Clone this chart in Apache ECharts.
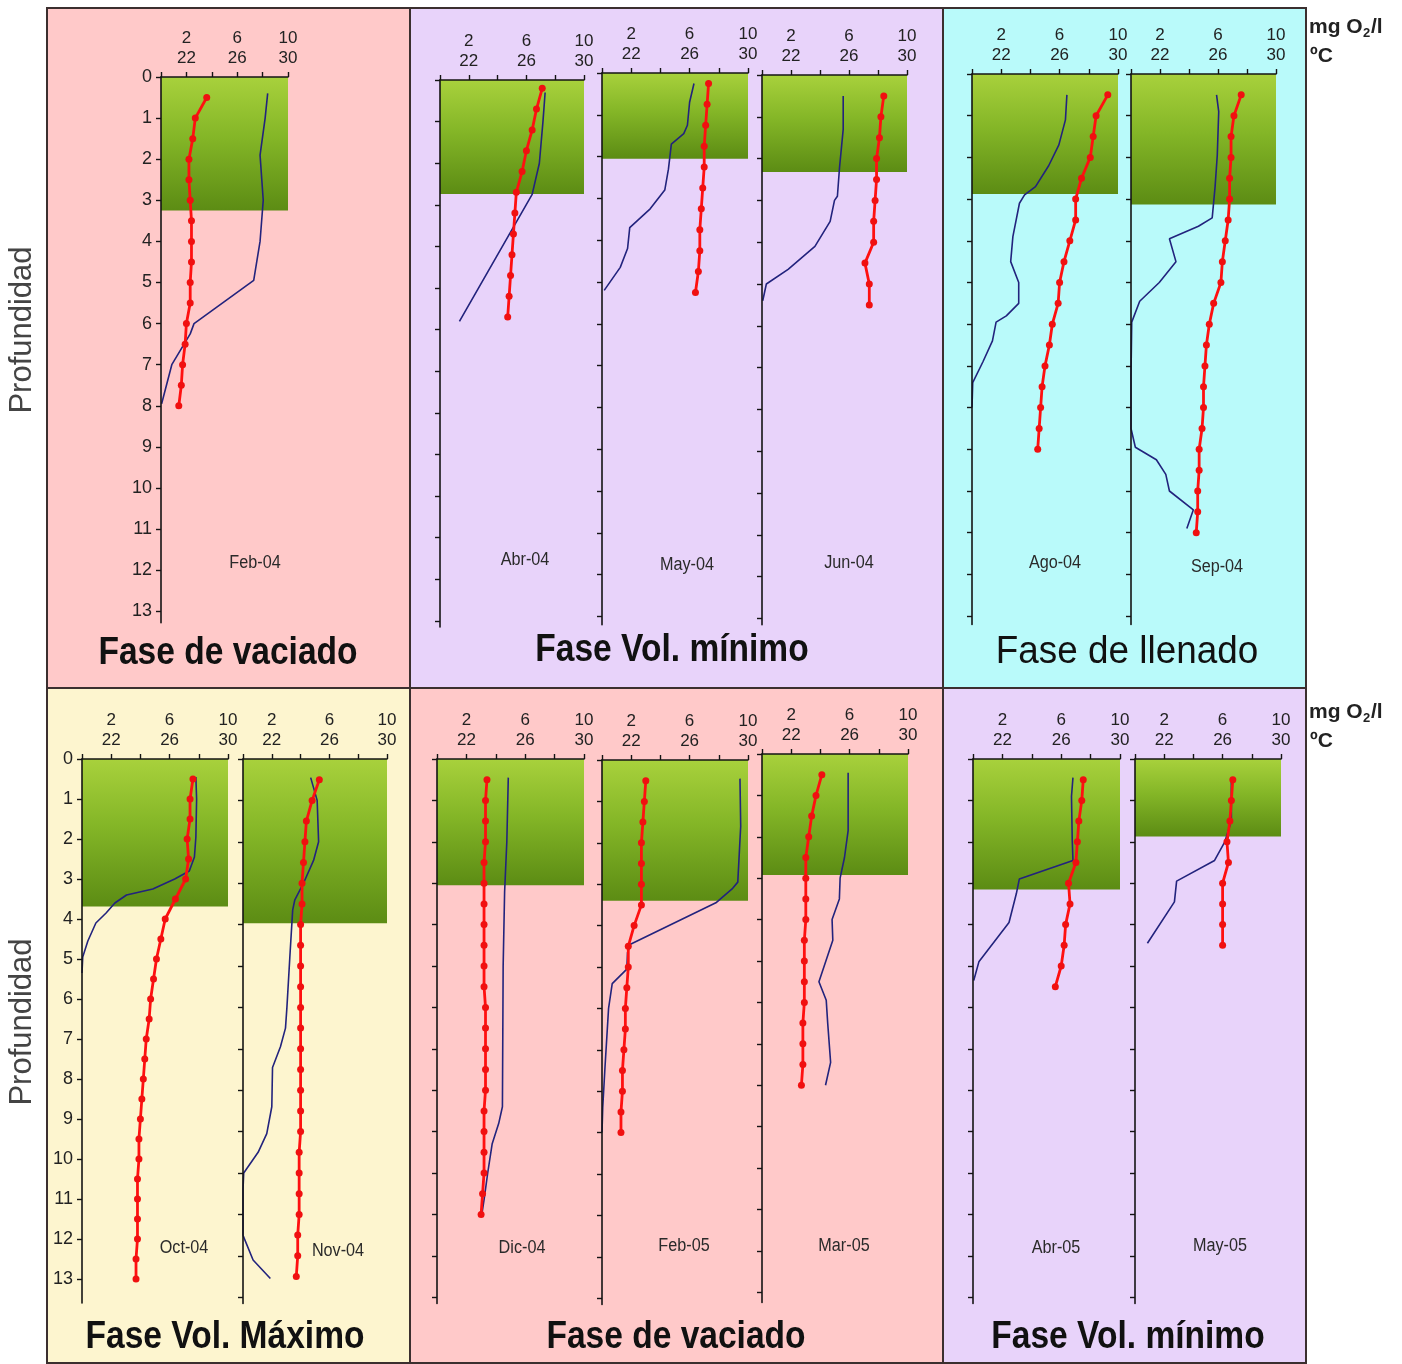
<!DOCTYPE html>
<html>
<head>
<meta charset="utf-8">
<script src="https://cdn.jsdelivr.net/npm/echarts@6/dist/echarts.min.js"></script>
<style>
  html, body { margin: 0; padding: 0; background: #ffffff; }
  #chart { width: 1402px; height: 1364px; }
</style>
</head>
<body>
<div id="chart"></div>
<script>
// Vertical profiles of temperature (ºC) and dissolved oxygen (mg O2/l) by depth (m).
const depthTicks = [0, 1, 2, 3, 4, 5, 6, 7, 8, 9, 10, 11, 12, 13];

// Feb-04
const feb04TempDepth = [0.5, 1, 1.5, 2, 2.5, 3, 3.5, 4, 4.5, 5, 5.5, 6, 6.5, 7, 7.5, 8];
const feb04Temp = [23.6, 22.7, 22.5, 22.2, 22.2, 22.3, 22.4, 22.4, 22.4, 22.3, 22.3, 22.0, 21.9, 21.7, 21.6, 21.4];
const feb04O2Depth = [0.4, 1.0, 1.9, 3.0, 4.0, 4.95, 6.0, 6.25, 7.0, 7.95];
const feb04O2 = [8.4, 8.2, 7.8, 8.05, 7.8, 7.3, 2.6, 2.3, 0.85, 0.05];
const feb04Photic = 3.25;

// Abr-04
const abr04TempDepth = [0.2, 0.7, 1.2, 1.7, 2.2, 2.7, 3.2, 3.7, 4.2, 4.7, 5.2, 5.7];
const abr04Temp = [27.1, 26.7, 26.4, 26.0, 25.7, 25.3, 25.2, 25.1, 25.0, 24.9, 24.8, 24.7];
const abr04O2Depth = [0.3, 1.0, 2.0, 2.75, 5.8];
const abr04O2 = [7.3, 7.15, 6.9, 6.4, 1.35];
const abr04Photic = 2.74;

// May-04
const may04TempDepth = [0.25, 0.75, 1.25, 1.75, 2.25, 2.75, 3.25, 3.75, 4.25, 4.75, 5.25];
const may04Temp = [27.3, 27.2, 27.1, 27.0, 27.0, 26.9, 26.8, 26.7, 26.7, 26.6, 26.4];
const may04O2Depth = [0.25, 0.7, 1.25, 1.45, 1.7, 2.3, 2.8, 3.25, 3.7, 4.2, 4.65, 5.2];
const may04O2 = [6.3, 6.0, 5.85, 5.6, 4.75, 4.55, 4.3, 3.3, 1.9, 1.75, 1.25, 0.15];
const may04Photic = 2.05;

// Jun-04
const jun04TempDepth = [0.5, 1, 1.5, 2, 2.5, 3, 3.5, 4, 4.5, 5, 5.5];
const jun04Temp = [28.4, 28.2, 28.1, 27.9, 27.9, 27.8, 27.7, 27.7, 27.1, 27.4, 27.4];
const jun04O2Depth = [0.5, 1.3, 2.2, 2.9, 3.0, 3.5, 4.1, 4.65, 5.0, 5.4];
const jun04O2 = [5.6, 5.6, 5.35, 5.2, 5.0, 4.7, 3.65, 1.8, 0.3, 0.05];
const jun04Photic = 2.32;

// Ago-04
const ago04TempDepth = [0.5, 1, 1.5, 2, 2.5, 3, 3.5, 4, 4.5, 5, 5.5, 6, 6.5, 7, 7.5, 8, 8.5, 9];
const ago04Temp = [29.3, 28.5, 28.3, 28.1, 27.5, 27.1, 27.1, 26.7, 26.3, 26.0, 25.9, 25.5, 25.3, 25.0, 24.8, 24.7, 24.6, 24.5];
const ago04O2Depth = [0.5, 1.1, 1.7, 2.2, 2.7, 2.9, 3.1, 3.9, 4.5, 5.0, 5.5, 5.8, 5.95, 6.4, 6.9, 7.4, 8.0];
const ago04O2 = [6.5, 6.4, 5.95, 5.25, 4.35, 3.6, 3.25, 2.8, 2.65, 3.2, 3.2, 2.35, 1.65, 1.4, 0.75, 0.05, 0];
const ago04Photic = 2.88;

// Sep-04
const sep04TempDepth = [0.5, 1, 1.5, 2, 2.5, 3, 3.5, 4, 4.5, 5, 5.5, 6, 6.5, 7, 7.5, 8, 8.5, 9, 9.5, 10, 10.5, 11];
const sep04Temp = [27.6, 27.1, 26.9, 26.9, 26.8, 26.8, 26.7, 26.5, 26.3, 26.2, 25.7, 25.4, 25.2, 25.1, 25.0, 25.0, 24.9, 24.7, 24.7, 24.6, 24.6, 24.5];
const sep04O2Depth = [0.5, 0.9, 1.95, 2.7, 3.45, 3.65, 3.95, 4.5, 5.0, 5.45, 5.95, 7.25, 8.5, 8.95, 9.25, 9.6, 10.0, 10.45, 10.9];
const sep04O2 = [5.9, 6.05, 5.95, 5.8, 5.6, 4.65, 2.65, 3.1, 1.95, 0.6, 0.05, 0, 0, 0.3, 1.75, 2.4, 2.65, 4.3, 3.85];
const sep04Photic = 3.13;

// Oct-04
const oct04TempDepth = [0.5, 1, 1.5, 2, 2.5, 3, 3.5, 4, 4.5, 5, 5.5, 6, 6.5, 7, 7.5, 8, 8.5, 9, 9.5, 10, 10.5, 11, 11.5, 12, 12.5, 13];
const oct04Temp = [27.6, 27.4, 27.4, 27.2, 27.3, 27.1, 26.4, 25.7, 25.4, 25.1, 24.9, 24.7, 24.6, 24.4, 24.3, 24.2, 24.1, 24.0, 23.9, 23.9, 23.8, 23.8, 23.8, 23.8, 23.7, 23.7];
const oct04O2Depth = [0.45, 1.0, 1.95, 2.45, 2.8, 3.0, 3.25, 3.4, 3.6, 3.85, 4.1, 4.55, 4.95, 5.35];
const oct04O2 = [7.8, 7.85, 7.8, 7.7, 7.35, 6.35, 4.85, 3.05, 2.25, 1.65, 0.95, 0.4, 0.05, 0];
const oct04Photic = 3.69;

// Nov-04
const nov04TempDepth = [0.5, 1, 1.5, 2, 2.5, 3, 3.5, 4, 4.5, 5, 5.5, 6, 6.5, 7, 7.5, 8, 8.5, 9, 9.5, 10, 10.5, 11, 11.5, 12, 12.5];
const nov04Temp = [25.3, 24.8, 24.4, 24.3, 24.2, 24.1, 24.1, 24.0, 24.0, 24.0, 24.0, 24.0, 24.0, 24.0, 24.0, 24.0, 24.0, 24.0, 23.9, 23.9, 23.9, 23.9, 23.8, 23.8, 23.7];
const nov04O2Depth = [0.45, 1.0, 2.0, 2.45, 3.0, 3.4, 3.65, 4.8, 6.0, 6.5, 6.95, 7.45, 8.4, 9.05, 9.5, 10.0, 10.4, 11.5, 11.55, 12.1, 12.55];
const nov04O2 = [4.7, 5.15, 5.25, 4.9, 4.2, 3.6, 3.45, 3.25, 3.05, 2.95, 2.6, 2.05, 2.0, 1.65, 1.05, 0.05, 0, 0, 0.05, 0.7, 1.9];
const nov04Photic = 3.97;

// Dic-04
const dic04TempDepth = [0.5, 1, 1.5, 2, 2.5, 3, 3.5, 4, 4.5, 5, 5.5, 6, 6.5, 7, 7.5, 8, 8.5, 9, 9.5, 10, 10.5, 11];
const dic04Temp = [23.4, 23.3, 23.3, 23.3, 23.2, 23.2, 23.2, 23.2, 23.2, 23.2, 23.2, 23.3, 23.3, 23.3, 23.3, 23.3, 23.2, 23.2, 23.2, 23.2, 23.1, 23.0];
const dic04O2Depth = [0.45, 2.0, 3.2, 5.0, 8.4, 8.8, 9.3, 10.0, 10.65, 11.0];
const dic04O2 = [4.85, 4.75, 4.6, 4.5, 4.45, 4.2, 3.75, 3.45, 3.2, 3.05];
const dic04Photic = 3.05;

// Feb-05
const feb05TempDepth = [0.5, 1, 1.5, 2, 2.5, 3, 3.5, 4, 4.5, 5, 5.5, 6, 6.5, 7, 7.5, 8, 8.5, 9];
const feb05Temp = [23.0, 22.9, 22.8, 22.7, 22.7, 22.7, 22.7, 22.2, 21.8, 21.8, 21.7, 21.6, 21.6, 21.5, 21.4, 21.4, 21.3, 21.3];
const feb05O2Depth = [0.45, 1.6, 2.95, 3.1, 3.45, 4.45, 4.65, 5.05, 5.4, 6.0, 7.45, 8.4, 9.0];
const feb05O2 = [9.45, 9.5, 9.3, 8.95, 7.8, 1.95, 1.75, 1.7, 0.7, 0.45, 0.2, 0.05, 0];
const feb05Photic = 3.4;

// Mar-05
const mar05TempDepth = [0.5, 1, 1.5, 2, 2.5, 3, 3.5, 4, 4.5, 5, 5.5, 6, 6.5, 7, 7.5, 8];
const mar05Temp = [24.1, 23.7, 23.4, 23.2, 23.0, 23.0, 23.0, 23.0, 22.9, 22.9, 22.9, 22.9, 22.8, 22.8, 22.8, 22.7];
const mar05O2Depth = [0.45, 1.85, 2.5, 3.0, 3.5, 4.0, 4.5, 5.5, 5.95, 6.5, 7.45, 8.0];
const mar05O2 = [5.9, 5.9, 5.65, 5.35, 5.3, 4.8, 4.85, 3.9, 4.4, 4.5, 4.7, 4.35];
const mar05Photic = 2.92;

// Abr-05
const abr05TempDepth = [0.5, 1, 1.5, 2, 2.5, 3, 3.5, 4, 4.5, 5, 5.5];
const abr05Temp = [27.5, 27.4, 27.2, 27.1, 27.0, 26.5, 26.6, 26.3, 26.2, 26.0, 25.6];
const abr05O2Depth = [0.45, 0.9, 1.95, 2.45, 2.9, 3.25, 3.95, 4.9, 5.35];
const abr05O2 = [6.8, 6.7, 6.75, 6.8, 3.15, 2.95, 2.45, 0.4, 0.05];
const abr05Photic = 3.15;

// May-05
const may05TempDepth = [0.5, 1, 1.5, 2, 2.5, 3, 3.5, 4, 4.5];
const may05Temp = [26.7, 26.6, 26.5, 26.3, 26.4, 26.0, 26.0, 26.0, 26.0];
const may05O2Depth = [0.45, 1.5, 2.0, 2.45, 2.95, 3.45, 4.45];
const may05O2 = [6.6, 6.6, 6.15, 5.45, 2.85, 2.7, 0.85];
const may05Photic = 1.87;

const profiles = [
  { month: 'Feb-04', tDepth: feb04TempDepth, t: feb04Temp, oDepth: feb04O2Depth, o: feb04O2, photic: feb04Photic },
  { month: 'Abr-04', tDepth: abr04TempDepth, t: abr04Temp, oDepth: abr04O2Depth, o: abr04O2, photic: abr04Photic },
  { month: 'May-04', tDepth: may04TempDepth, t: may04Temp, oDepth: may04O2Depth, o: may04O2, photic: may04Photic },
  { month: 'Jun-04', tDepth: jun04TempDepth, t: jun04Temp, oDepth: jun04O2Depth, o: jun04O2, photic: jun04Photic },
  { month: 'Ago-04', tDepth: ago04TempDepth, t: ago04Temp, oDepth: ago04O2Depth, o: ago04O2, photic: ago04Photic },
  { month: 'Sep-04', tDepth: sep04TempDepth, t: sep04Temp, oDepth: sep04O2Depth, o: sep04O2, photic: sep04Photic },
  { month: 'Oct-04', tDepth: oct04TempDepth, t: oct04Temp, oDepth: oct04O2Depth, o: oct04O2, photic: oct04Photic },
  { month: 'Nov-04', tDepth: nov04TempDepth, t: nov04Temp, oDepth: nov04O2Depth, o: nov04O2, photic: nov04Photic },
  { month: 'Dic-04', tDepth: dic04TempDepth, t: dic04Temp, oDepth: dic04O2Depth, o: dic04O2, photic: dic04Photic },
  { month: 'Feb-05', tDepth: feb05TempDepth, t: feb05Temp, oDepth: feb05O2Depth, o: feb05O2, photic: feb05Photic },
  { month: 'Mar-05', tDepth: mar05TempDepth, t: mar05Temp, oDepth: mar05O2Depth, o: mar05O2, photic: mar05Photic },
  { month: 'Abr-05', tDepth: abr05TempDepth, t: abr05Temp, oDepth: abr05O2Depth, o: abr05O2, photic: abr05Photic },
  { month: 'May-05', tDepth: may05TempDepth, t: may05Temp, oDepth: may05O2Depth, o: may05O2, photic: may05Photic }
];

// Phase blocks and their titles
const phaseTitles = ['Fase de vaciado', 'Fase Vol. mínimo', 'Fase de llenado', 'Fase Vol. Máximo', 'Fase de vaciado', 'Fase Vol. mínimo'];

// ---- layout (pixels) ----
// per-profile plot box: left, top, width, px per metre, axis end depth, month label position
const boxes = [
  { l: 161, t: 77, w: 127, u: 41.1, end: 13.28, lx: 255, ly: 563, ticks: true },
  { l: 440, t: 80, w: 144, u: 41.6, end: 13.15, lx: 525, ly: 560 },
  { l: 602, t: 73, w: 146, u: 41.8, end: 13.2, lx: 687, ly: 565 },
  { l: 762, t: 75, w: 145, u: 41.8, end: 13.15, lx: 849, ly: 563 },
  { l: 972, t: 74, w: 146, u: 41.7, end: 13.2, lx: 1055, ly: 563 },
  { l: 1131, t: 74, w: 145, u: 41.7, end: 13.2, lx: 1217, ly: 567 },
  { l: 82, t: 759, w: 146, u: 40, end: 13.6, lx: 184, ly: 1248, ticks: true },
  { l: 243, t: 759, w: 144, u: 41.4, end: 13.15, lx: 338, ly: 1251 },
  { l: 437, t: 759, w: 147, u: 41.4, end: 13.15, lx: 522, ly: 1248 },
  { l: 602, t: 760, w: 146, u: 41.4, end: 13.15, lx: 684, ly: 1246 },
  { l: 762, t: 754, w: 146, u: 41.4, end: 13.25, lx: 844, ly: 1246 },
  { l: 973, t: 759, w: 147, u: 41.4, end: 13.15, lx: 1056, ly: 1248 },
  { l: 1135, t: 759, w: 146, u: 41.4, end: 13.15, lx: 1220, ly: 1246 }
];

const blocks = [
  { x: 47, y: 8, w: 363, h: 680, c: '#ffc9c9', tx: 228, ty: 653, bold: true },
  { x: 410, y: 8, w: 533, h: 680, c: '#e8d3fa', tx: 672, ty: 650, bold: true },
  { x: 943, y: 8, w: 363, h: 680, c: '#b9fafa', tx: 1127, ty: 653, bold: false },
  { x: 47, y: 688, w: 363, h: 675, c: '#fdf5cf', tx: 225, ty: 1337, bold: true },
  { x: 410, y: 688, w: 533, h: 675, c: '#ffc9c9', tx: 676, ty: 1337, bold: true },
  { x: 943, y: 688, w: 363, h: 675, c: '#e8d3fa', tx: 1128, ty: 1337, bold: true }
];

// Use a condensed face for the small labels when one is installed.
function hasFont(name) {
  const ctx = document.createElement('canvas').getContext('2d');
  const probe = 'Feb-04 0123456789 mmmwww';
  ctx.font = '40px monospace';
  const base = ctx.measureText(probe).width;
  ctx.font = "40px '" + name + "', monospace";
  return Math.abs(ctx.measureText(probe).width - base) > 0.5;
}
const NARROW = hasFont('Liberation Sans Narrow') ? 'Liberation Sans Narrow'
  : (hasFont('Arial Narrow') ? 'Arial Narrow' : null);
const SANS = "'Liberation Sans', Arial, sans-serif";
const SMALL_FONT = NARROW ? "'" + NARROW + "', " + SANS : SANS;
const SMALL_SIZE = NARROW ? 19 : 17;
const SMALL_SCALE = NARROW ? 1 : 0.9;

const AXIS_COLOR = '#141414';
const photicFill = {
  type: 'linear', x: 0, y: 0, x2: 0, y2: 1,
  colorStops: [
    { offset: 0, color: '#a8d13c' },
    { offset: 0.45, color: '#84b627' },
    { offset: 1, color: '#5c8c14' }
  ]
};

const grid = [], xAxis = [], yAxis = [], series = [], graphics = [];

blocks.forEach((b) => {
  graphics.push({
    type: 'rect', z: -10, silent: true,
    shape: { x: b.x, y: b.y, width: b.w, height: b.h },
    style: { fill: b.c, stroke: '#3b2f2f', lineWidth: 2 }
  });
});

profiles.forEach((p, i) => {
  const b = boxes[i];
  grid.push({ left: b.l, top: b.t, width: b.w, height: b.end * b.u, containLabel: false });
  // dissolved oxygen axis (upper labels)
  xAxis.push({
    type: 'value', gridIndex: i, position: 'top', min: 0, max: 10, interval: 2, z: 5,
    axisLine: { show: true, onZero: false, lineStyle: { color: AXIS_COLOR, width: 1.6 } },
    axisTick: { show: true, inside: false, length: 5, lineStyle: { color: AXIS_COLOR, width: 1.4 } },
    splitLine: { show: false },
    axisLabel: {
      margin: 30, fontSize: SMALL_SIZE, color: '#222', fontFamily: SMALL_FONT,
      formatter: (v) => (v % 4 === 2 ? String(v) : '')
    }
  });
  // temperature axis (lower labels), sharing the same line
  xAxis.push({
    type: 'value', gridIndex: i, position: 'top', min: 20, max: 30, interval: 2, z: 5,
    axisLine: { show: false, onZero: false },
    axisTick: { show: false },
    splitLine: { show: false },
    axisLabel: {
      margin: 10, fontSize: SMALL_SIZE, color: '#222', fontFamily: SMALL_FONT,
      formatter: (v) => ((v - 20) % 4 === 2 ? String(v) : '')
    }
  });
  yAxis.push({
    type: 'value', gridIndex: i, inverse: true, min: 0, max: b.end, z: 5,
    axisLine: { show: true, onZero: false, lineStyle: { color: AXIS_COLOR, width: 1.6 } },
    axisTick: { show: true, length: 5, customValues: depthTicks, lineStyle: { color: AXIS_COLOR, width: 1.4 } },
    splitLine: { show: false },
    axisLabel: {
      show: !!b.ticks, customValues: depthTicks, margin: 9, fontSize: NARROW ? 20 : 18, color: '#222',
      fontFamily: SMALL_FONT
    }
  });
  series.push({
    name: p.month + ' O2', type: 'line', xAxisIndex: 2 * i, yAxisIndex: i,
    data: p.oDepth.map((d, k) => [p.o[k], d]),
    symbol: 'none', silent: true, z: 3,
    lineStyle: { color: '#22237d', width: 1.6 },
    markArea: {
      silent: true, z: 1,
      itemStyle: { color: photicFill, opacity: 1 },
      label: { show: false },
      data: [[{ coord: [0, 0] }, { coord: [10, p.photic] }]]
    }
  });
  series.push({
    name: p.month + ' T', type: 'line', xAxisIndex: 2 * i + 1, yAxisIndex: i,
    data: p.tDepth.map((d, k) => [p.t[k], d]),
    symbol: 'circle', symbolSize: 7, silent: true, z: 4,
    itemStyle: { color: '#f01010' },
    lineStyle: { color: '#ff1010', width: 2.8 }
  });
  graphics.push({
    type: 'text', z: 20, silent: true, x: b.lx, y: b.ly, scaleX: SMALL_SCALE,
    style: { text: p.month, x: 0, y: 0, align: 'center', verticalAlign: 'middle',
      font: (NARROW ? '20px ' : '18px ') + SMALL_FONT, fill: '#2a2a2a' }
  });
});

blocks.forEach((b, i) => {
  graphics.push({
    type: 'text', z: 20, silent: true, x: b.tx, y: b.ty, scaleX: b.bold ? 0.86 : 0.97,
    style: { text: phaseTitles[i], x: 0, y: 0, align: 'center', verticalAlign: 'middle',
      font: (b.bold ? 'bold 39px ' : '38px ') + SANS, fill: '#111' }
  });
});

// depth axis name and unit keys
[330, 1022].forEach((cy) => {
  graphics.push({
    type: 'text', z: 20, silent: true, x: 22, y: cy, rotation: Math.PI / 2,
    style: { text: 'Profundidad', x: 0, y: 0, align: 'center', verticalAlign: 'middle',
      font: '31px ' + SANS, fill: '#444' }
  });
});
[[1309, 27, 56], [1309, 712, 741]].forEach(([ux, y1, y2]) => {
  graphics.push({
    type: 'text', z: 20, silent: true, x: ux, y: y1,
    style: { text: 'mg O', x: 0, y: 0, align: 'left', verticalAlign: 'middle',
      font: 'bold 21px ' + SANS, fill: '#222' }
  });
  graphics.push({
    type: 'text', z: 20, silent: true, x: ux + 54, y: y1 + 6,
    style: { text: '2', x: 0, y: 0, align: 'left', verticalAlign: 'middle',
      font: 'bold 13px ' + SANS, fill: '#222' }
  });
  graphics.push({
    type: 'text', z: 20, silent: true, x: ux + 62, y: y1,
    style: { text: '/l', x: 0, y: 0, align: 'left', verticalAlign: 'middle',
      font: 'bold 21px ' + SANS, fill: '#222' }
  });
  graphics.push({
    type: 'text', z: 20, silent: true, x: ux + 1, y: y2,
    style: { text: 'ºC', x: 0, y: 0, align: 'left', verticalAlign: 'middle',
      font: 'bold 21px ' + SANS, fill: '#222' }
  });
});

const chart = echarts.init(document.getElementById('chart'), null, { renderer: 'canvas' });
chart.setOption({
  backgroundColor: '#ffffff',
  animation: false,
  grid, xAxis, yAxis, series,
  graphic: { elements: graphics }
});
</script>
</body>
</html>
